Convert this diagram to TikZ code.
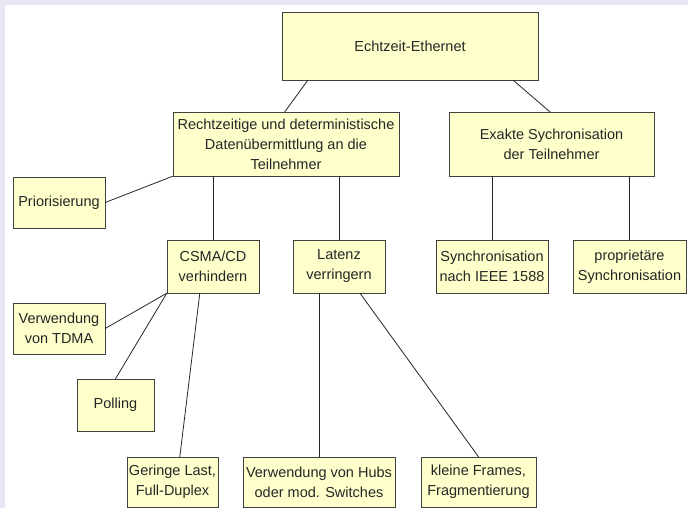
\documentclass[tikz,border=0pt]{standalone}
\usepackage{fontspec}
\setmainfont{Liberation Sans}
\usepackage{tikz}
\definecolor{boxfill}{HTML}{FFFFCC}
\definecolor{boxline}{HTML}{404040}
\definecolor{frame}{HTML}{E8E8F4}

\begin{document}
\begin{tikzpicture}[x=1pt,y=-1pt,
  every node/.style={font=\fontsize{14.5}{20}\selectfont,text=black!85},
  box/.style={draw=boxline,fill=boxfill,align=center,inner sep=0pt,
    minimum height=53pt},
  link/.style={draw=black!85,line width=.8pt}]
 \fill[frame] (0,0) rectangle (688,508);
 \fill[white] (5,5) rectangle (688,508);
 \node[box,minimum width=256pt,minimum height=68pt] (rt) at (410,46)
   {Echtzeit-Ethernet};
 \node[box,minimum width=226pt,minimum height=64pt] (rechtz) at (286,144)
   {Rechtzeitige und deterministische\\Datenübermittlung an die\\Teilnehmer};
 \node[box,minimum width=205pt,minimum height=64pt] (sync) at (551.5,144)
   {Exakte Sychronisation\\der Teilnehmer};
 \node[box,minimum width=92pt,minimum height=51pt] (prio) at (59,202.5)
   {Priorisierung};
 \node[box,minimum width=92pt] (csma) at (213,266.5) {CSMA/CD\\verhindern};
 \node[box,minimum width=92pt] (latenz) at (339,266.5) {Latenz\\verringern};
 \node[box,minimum width=112pt] (ieee) at (492,266.5)
   {Synchronisation\\nach IEEE 1588};
 \node[box,minimum width=113pt] (propr) at (629.5,266.5)
   {proprietäre\\Synchronisation};
 \node[box,minimum width=92pt,minimum height=51pt] (tdma) at (59,328.5)
   {Verwendung\\von TDMA};
 \node[box,minimum width=77pt,minimum height=52pt] (poll) at (115.5,405)
   {Polling};
 \node[box,minimum width=91pt,minimum height=50pt] (last) at (172.5,482)
   {Geringe Last,\\Full-Duplex};
 \node[box,minimum width=152pt,minimum height=50pt] (hubs) at (319,482)
   {Verwendung von Hubs\\oder mod. Switches};
 \node[box,minimum width=115pt,minimum height=50pt] (frames) at (478.5,482)
   {kleine Frames,\\Fragmentierung};
 \draw[link] ([xshift=26pt]rt.south west)--([xshift=112pt]rechtz.north west);
 \draw[link] ([xshift=-25pt]rt.south east)--([xshift=101pt]sync.north west);
 \draw[link] (rechtz.south west)--(prio.east);
 \draw[link] (csma.north|-rechtz.south)--(csma.north);
 \draw[link] (latenz.north|-rechtz.south)--(latenz.north);
 \draw[link] (ieee.north|-sync.south)--(ieee.north);
 \draw[link] (propr.north|-sync.south)--(propr.north);
 \draw[link] (csma.south west)--(tdma.east);
 \draw[link] (csma.south west)--(poll.north);
 \draw[link] ([xshift=33pt]csma.south west)--([xshift=53pt]last.north west);
 \draw[link] (hubs.north|-latenz.south)--(hubs.north);
 \draw[link] ([xshift=21pt]latenz.south)--(frames.north);
\end{tikzpicture}
\end{document}
